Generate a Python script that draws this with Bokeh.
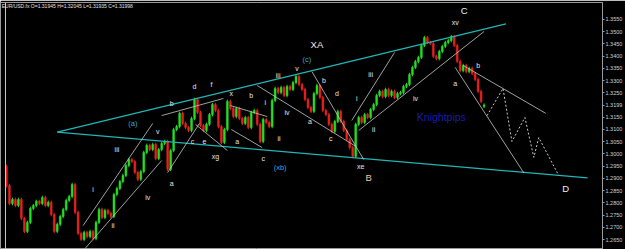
from bokeh.plotting import figure
from bokeh.models import Range1d, FixedTicker, Label, ColumnDataSource, NumeralTickFormatter, Span
from bokeh.embed import file_html
from bokeh.resources import INLINE
from bokeh.core.properties import value

# ---------------- data ----------------
header = "EUR/USD.fx O=1.31945 H=1.32045 L=1.31935 C=1.31998"
first_open = 1.2949
last_open = 1.31945
closes = [
    1.2871, 1.2797, 1.2814, 1.2789, 1.2814, 1.2736, 1.2683, 1.2720, 1.2777, 1.2789,
    1.2806, 1.2797, 1.2822, 1.2789, 1.2802, 1.2752, 1.2683, 1.2712, 1.2744, 1.2773,
    1.2810, 1.2826, 1.2875, 1.2761, 1.2675, 1.2650, 1.2679, 1.2662, 1.2683, 1.2654,
    1.2720, 1.2773, 1.2740, 1.2769, 1.2757, 1.2744, 1.2834, 1.2859, 1.2887, 1.2912,
    1.2953, 1.2977, 1.2969, 1.2924, 1.2896, 1.2928, 1.3006, 1.3035, 1.3018, 1.3039,
    1.2981, 1.3018, 1.3043, 1.3051, 1.2937, 1.3014, 1.3100, 1.3112, 1.3166, 1.3125,
    1.3108, 1.3096, 1.3145, 1.3223, 1.3170, 1.3116, 1.3096, 1.3121, 1.3161, 1.3202,
    1.3178, 1.3112, 1.3047, 1.3100, 1.3215, 1.3186, 1.3153, 1.3186, 1.3145, 1.3125,
    1.3149, 1.3108, 1.3170, 1.3178, 1.3121, 1.3051, 1.3141, 1.3129, 1.3112, 1.3219,
    1.3268, 1.3251, 1.3272, 1.3239, 1.3276, 1.3264, 1.3292, 1.3317, 1.3284, 1.3264,
    1.3223, 1.3190, 1.3174, 1.3247, 1.3280, 1.3231, 1.3178, 1.3161, 1.3121, 1.3092,
    1.3133, 1.3174, 1.3133, 1.3096, 1.3059, 1.3026, 1.2990, 1.3121, 1.3149, 1.3129,
    1.3161, 1.3149, 1.3182, 1.3202, 1.3239, 1.3256, 1.3235, 1.3264, 1.3239, 1.3256,
    1.3231, 1.3247, 1.3251, 1.3276, 1.3284, 1.3325, 1.3354, 1.3378, 1.3395, 1.3444,
    1.3476, 1.3456, 1.3452, 1.3399, 1.3390, 1.3419, 1.3440, 1.3456, 1.3464, 1.3480,
    1.3444, 1.3378, 1.3341, 1.3362, 1.3337, 1.3350, 1.3329, 1.3305, 1.3256, 1.3215,
    1.31998,
]
wick = 0.0007
price_ticks = [1.2650, 1.2700, 1.2750, 1.2800, 1.2850, 1.2900, 1.2950, 1.3000, 1.3050,
               1.3100, 1.3150, 1.3250, 1.3300, 1.3350, 1.3400, 1.3450, 1.3500, 1.3550]
current_price = 1.31998
current_label = "1.3199"

# channel / trend lines (bar index, price)
cyan_x0 = [17.0, 17.0]
cyan_y0 = [1.3089, 1.3089]
cyan_x1 = [167.33, 194.67]
cyan_y1 = [1.3532, 1.2902]

white_x0 = [25.67, 26.33, 54.0, 52.0, 63.33, 75.0, 75.33, 84.0, 102.33, 115.67, 118.0, 150.33, 153.0]
white_y0 = [1.2707, 1.2613, 1.2924, 1.3157, 1.3121, 1.3198, 1.3100, 1.3280, 1.3337, 1.3137, 1.3096, 1.3354, 1.3362]
white_x1 = [49.0, 52.0, 64.67, 72.67, 74.0, 87.33, 85.67, 117.0, 119.67, 130.0, 160.0, 173.33, 180.67]
white_y1 = [1.3125, 1.2973, 1.3125, 1.3227, 1.3014, 1.3153, 1.3026, 1.3031, 1.2977, 1.3415, 1.3501, 1.2922, 1.3166]

proj_x = [161.0, 166.33, 169.33, 173.67, 176.67, 178.33, 185.0]
proj_y = [1.3157, 1.3268, 1.3051, 1.3149, 1.2986, 1.3067, 1.2912]

wave_text = ["i", "ii", "iii", "iv", "v", "a", "b", "c", "d", "e", "f", "xg", "x", "b", "i",
             "a", "c", "ii", "iii", "iv", "v", "b", "d", "a", "c", "xe", "i", "ii", "iii",
             "iv", "xv", "a", "b"]
wave_x = [29.0, 35.67, 37.0, 47.33, 50.67, 55.33, 55.33, 62.33, 63.0, 66.33, 68.67, 70.0, 75.33, 82.0, 86.67,
          77.33, 86.0, 91.33, 91.0, 94.0, 97.33, 106.33, 110.67, 101.67, 108.67, 118.67, 117.33, 123.0, 122.0,
          137.0, 150.33, 150.33, 158.0]
wave_y = [1.2855, 1.2707, 1.3018, 1.2822, 1.3092, 1.2879, 1.3206, 1.3051, 1.3276, 1.3051, 1.3284, 1.2990, 1.3247, 1.3239, 1.3211,
          1.3051, 1.2981, 1.3063, 1.3321, 1.3170, 1.3350, 1.3300, 1.3247, 1.3133, 1.3063, 1.2949, 1.3227, 1.3100, 1.3325,
          1.3227, 1.3538, 1.3288, 1.3362]

degree_text = ["(a)", "(xb)", "(c)"]
degree_x = [42.33, 91.67, 100.67]
degree_y = [1.3125, 1.2945, 1.3386]

major_text = ["XA", "C", "D"]
major_x = [104.0, 153.33, 187.33]
major_y = [1.3448, 1.3587, 1.2859]

b_text = "B"
b_x = 121.33
b_y = 1.2904

brand_text = "Knightpips"
brand_x = 145.67
brand_y = 1.3153

# ---------------- build candles ----------------
opens = [first_open] + closes[:-1]
opens[-1] = last_open
idx = list(range(len(closes)))
highs = [max(o, c) + wick for o, c in zip(opens, closes)]
lows = [min(o, c) - wick for o, c in zip(opens, closes)]
up = "#22e022"
down = "#e82020"
colors = [up if c >= o else down for o, c in zip(opens, closes)]
src = ColumnDataSource(dict(x=idx, o=opens, c=closes, h=highs, l=lows, col=colors,
                            top=[max(o, c) for o, c in zip(opens, closes)],
                            bot=[min(o, c) for o, c in zip(opens, closes)]))

px_per_price = 0.000409
y_top = 1.3550 + 17 * px_per_price
y_bot = 1.2650 - 10 * px_per_price

p = figure(width=625, height=249, output_backend="svg", toolbar_location=None,
           x_range=Range1d(-2.0, 199.67), y_range=Range1d(y_bot, y_top),
           x_axis_location=None, y_axis_location="right",
           background_fill_color="black", border_fill_color="black",
           min_border_left=0, min_border_right=20, min_border_top=2, min_border_bottom=0,
           outline_line_color="#9a9a9a", outline_line_width=1)
p.grid.visible = False

ax = p.yaxis[0]
ax.ticker = FixedTicker(ticks=price_ticks + [current_price])
ax.formatter = NumeralTickFormatter(format="0.0000")
ax.major_label_overrides = {current_price: current_label}
ax.major_label_text_color = "#d0d0d0"
ax.major_label_text_font = "Liberation Sans"
ax.major_label_text_font_size = "5.5px"
ax.major_label_standoff = 1
ax.major_tick_out = 2
ax.major_tick_in = 0
ax.minor_tick_out = 0
ax.minor_tick_in = 0
ax.major_tick_line_color = "#9a9a9a"
ax.axis_line_color = "#9a9a9a"

# left border line
p.add_layout(Span(location=-0.33, dimension="height", line_color="#c8c8c8", line_width=1))

# candles
p.segment(x0="x", y0="h", x1="x", y1="l", color="col", source=src, line_width=1)
p.vbar(x="x", top="top", bottom="bot", width=0.62, fill_color="col", line_color="col", line_width=0.5, source=src)

# lines
p.segment(x0=cyan_x0, y0=cyan_y0, x1=cyan_x1, y1=cyan_y1, line_color="#22b5b5", line_width=1.3)
p.segment(x0=white_x0, y0=white_y0, x1=white_x1, y1=white_y1, line_color="#c8c8c8", line_width=0.8)
p.line(proj_x, proj_y, line_color="#c8c8c8", line_width=1, line_dash="2 2")

# labels
fnt = value("Liberation Sans")
p.text(x=wave_x, y=wave_y, text=wave_text, text_color="#e6e6e6", text_font=fnt,
       text_font_size="7px", text_align="center", text_baseline="middle")
p.text(x=degree_x, y=degree_y, text=degree_text, text_color="#33a8d8", text_font=fnt,
       text_font_size="7.5px", text_align="center", text_baseline="middle")
p.text(x=major_x, y=major_y, text=major_text, text_color="#f0f0f0", text_font=fnt,
       text_font_size="9.5px", text_align="center", text_baseline="middle")
p.text(x=[b_x], y=[b_y], text=[b_text], text_color="#f2c89a", text_font=fnt,
       text_font_size="9.5px", text_align="center", text_baseline="middle")
p.text(x=[brand_x], y=[brand_y], text=[brand_text], text_color="#1c1ca8", text_font=fnt,
       text_font_size="10.5px", text_align="center", text_baseline="middle")

p.add_layout(Label(x=-1.6, y=y_top - 4 * px_per_price, text=header, text_color="#e0e0e0",
                   text_font="Liberation Sans", text_font_size="5px", text_baseline="middle"))

open("out.html", "w").write(file_html(p, INLINE))
